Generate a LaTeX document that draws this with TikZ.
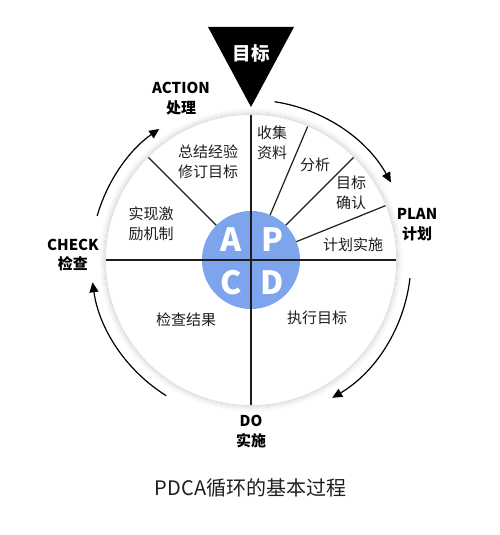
\documentclass[tikz,border=0pt]{standalone}
\usepackage{fontspec}
\setmainfont{Noto Sans CJK SC}
\usetikzlibrary{arrows.meta}
\definecolor{pblue}{RGB}{125,164,236}
\definecolor{ink}{RGB}{30,30,30}
\begin{document}
\begin{tikzpicture}[x=1pt,y=1pt,
  inlab/.style={font=\fontsize{15}{20}\selectfont, text=ink, align=center, inner sep=0pt},
  outlab/.style={font=\bfseries\fontsize{15}{19.5}\selectfont, text=black, align=center, inner sep=0pt},
  seg/.style={draw=ink, line width=1.2pt},
  cyc/.style={draw=black, line width=1.2pt, -{Triangle[length=10pt,width=9pt]}},
  letter/.style={font=\bfseries\fontsize{32}{32}\selectfont, text=white, inner sep=0pt}]
\useasboundingbox (0,0) rectangle (500,535);
\coordinate (c) at (251,275);
% soft ring
\foreach \i/\g in {0/24,1/20,2/16,3/12,4/8,5/5,6/2}
  \draw[gray!\g, line width=1.1pt] (c) circle[radius=145.5+\i];
\node[circle, fill=white, minimum size=290pt, inner sep=0pt, outer sep=0pt] (ring) at (c) {};
\node[circle, fill=pblue, minimum size=98pt, inner sep=0pt, outer sep=0pt] (pdca) at (c) {};
% cross lines
\draw[seg] (ring.north) -- (ring.south);
\draw[seg] (ring.west) -- (ring.east);
% radial lines
\draw[seg] (pdca.67.5) -- (ring.67.5);
\draw[seg] (pdca.45) -- (ring.45);
\draw[seg] (pdca.22.5) -- (ring.22.5);
\draw[seg] (pdca.135) -- (ring.135);
% letters
\node[letter] (la) at (231,295) {A};
\node[letter] (lp) at (272,295) {P};
\node[letter] (lc) at (231,252) {C};
\node[letter] (ld) at (272,252) {D};
% inner labels
\node[inlab] (t1) at (272,392) {收集\\资料};
\node[inlab] (t2) at (315,370) {分析};
\node[inlab] (t3) at (351,342) {目标\\确认};
\node[inlab] (t4) at (353,290) {计划实施};
\node[inlab] (t5) at (208,373) {总结经验\\修订目标};
\node[inlab] (t6) at (151,311) {实现激\\励机制};
\node[inlab] (t7) at (186,215) {检查结果};
\node[inlab] (t8) at (317,217) {执行目标};
% target triangle
\fill[black] (208,508) -- (294,508) -- (251,428) -- cycle;
\node[font=\bfseries\fontsize{18.5}{20}\selectfont, text=white, inner sep=0pt] (goal) at (251,481.5) {目标};
% outer labels
\node[outlab] (act) at (181,436.5) {ACTION\\处理};
\node[outlab] (plan) at (417,310.5) {PLAN\\计划};
\node[outlab] (chk) at (73,280) {CHECK\\检查};
\node[outlab] (do) at (251,103.5) {DO\\实施};
% cycle arrows
\draw[cyc] ([shift={(81.5:160)}]c) arc[start angle=81.5, end angle=29, radius=160];
\draw[cyc] ([shift={(-6.5:160)}]c) arc[start angle=-6.5, end angle=-59.5, radius=160];
\draw[cyc] ([shift={(238:160)}]c) arc[start angle=238, end angle=188, radius=160];
\draw[cyc] ([shift={(164:160)}]c) arc[start angle=164, end angle=125, radius=160];
% caption
\node[font=\fontsize{20}{21}\selectfont, text=ink, inner sep=0pt] (cap) at (250.5,47) {PDCA循环的基本过程};
\end{tikzpicture}
\end{document}
